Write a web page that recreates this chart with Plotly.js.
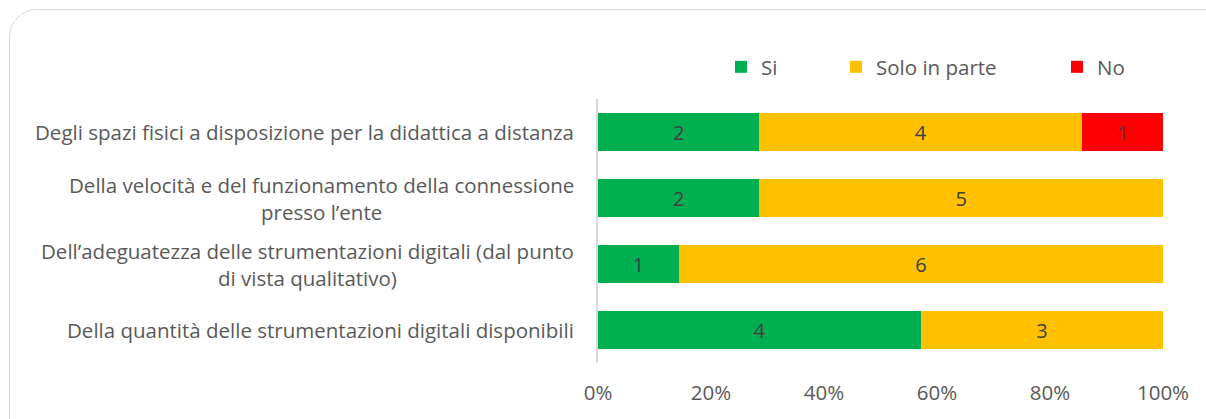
<!DOCTYPE html>
<html>
<head>
<meta charset="utf-8">
<script src="https://cdn.plot.ly/plotly-3.0.1.min.js"></script>
<style>
  html, body { margin: 0; padding: 0; background: #ffffff; overflow: hidden; }
  #frame { position: absolute; left: 9px; top: 9px; width: 1230px; height: 440px;
           border: 1.5px solid #d9d9d9; border-radius: 28px; box-sizing: border-box; }
  #chart { position: absolute; left: 0; top: 0; width: 1206px; height: 419px; }
</style>
</head>
<body>
<div id="frame"></div>
<div id="chart"></div>
<script>
// Categories (top to bottom)
const categories = [
  "Degli spazi fisici a disposizione per la didattica a distanza",
  "Della velocità e del funzionamento della connessione<br>presso l’ente",
  "Dell’adeguatezza delle strumentazioni digitali (dal punto<br>di vista qualitativo)",
  "Della quantità delle strumentazioni digitali disponibili"
];
const seriesNames = ["Si", "Solo in parte", "No"];
const si = [2, 2, 1, 4];
const soloInParte = [4, 5, 6, 3];
const no = [1, 0, 0, 0];
const tickVals = [0, 20, 40, 60, 80, 100];
const tickLabels = ["0%", "20%", "40%", "60%", "80%", "100%"];
const colors = ["#00B050", "#FFC000", "#FF0000"];

const FONT = "'Open Sans', Lato, sans-serif";
const FS = 20.5;
const series = [si, soloInParte, no];
const legendIds = ["legend", "legend2", "legend3"];

const traces = series.map((vals, i) => ({
  type: "bar",
  orientation: "h",
  name: seriesNames[i],
  y: categories,
  x: vals,
  text: vals.map(v => v === 0 ? "" : String(v)),
  texttemplate: "%{text}",
  textposition: "inside",
  insidetextanchor: "middle",
  textfont: { family: FONT, size: 20, color: "#404040" },
  constraintext: "none",
  marker: { color: colors[i], line: { width: 0 } },
  legend: legendIds[i],
  hoverinfo: "skip"
}));

const legendX = [721, 836, 1057];
const mkLegend = (x) => ({
  xref: "container", yref: "container",
  x: x / 1206, y: 1 - 67 / 419,
  xanchor: "left", yanchor: "middle",
  orientation: "h",
  bgcolor: "rgba(0,0,0,0)",
  font: { family: FONT, size: FS, color: "#595959" }
});

const annotations = categories.map(c => ({
  xref: "paper", yref: "y",
  x: 0, y: c,
  xanchor: "right", yanchor: "middle",
  xshift: -22,
  align: "center",
  showarrow: false,
  text: c,
  font: { family: FONT, size: FS, color: "#595959" }
}));

const layout = {
  width: 1206, height: 419,
  margin: { l: 598, r: 43, t: 99, b: 56 },
  paper_bgcolor: "rgba(0,0,0,0)",
  plot_bgcolor: "rgba(0,0,0,0)",
  barmode: "stack",
  barnorm: "percent",
  bargap: 0.42,
  showlegend: true,
  legend: mkLegend(legendX[0]),
  legend2: mkLegend(legendX[1]),
  legend3: mkLegend(legendX[2]),
  xaxis: {
    range: [0, 100],
    tickvals: tickVals,
    ticktext: tickLabels,
    showgrid: false,
    zeroline: false,
    showline: false,
    ticks: "",
    ticklabelstandoff: 15,
    tickfont: { family: FONT, size: FS, color: "#595959" },
    fixedrange: true
  },
  yaxis: {
    type: "category",
    autorange: "reversed",
    showticklabels: false,
    showgrid: false,
    zeroline: false,
    showline: true,
    linecolor: "#d9d9d9",
    linewidth: 2,
    ticks: "",
    fixedrange: true
  },
  annotations: annotations
};

Plotly.newPlot("chart", traces, layout, { displayModeBar: false, staticPlot: true });
</script>
</body>
</html>
